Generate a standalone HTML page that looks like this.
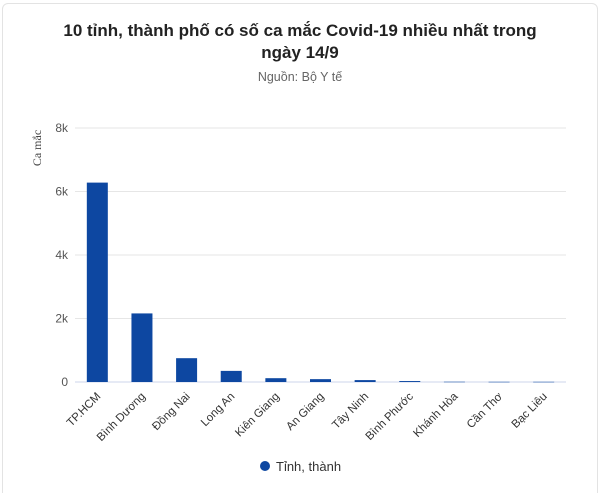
<!DOCTYPE html>
<html><head><meta charset="utf-8">
<style>
body{margin:0;background:#fff;font-family:"Liberation Sans","DejaVu Sans",sans-serif;}
#wrap{position:relative;width:600px;height:493px;overflow:hidden;}
#frame{position:absolute;left:2px;top:3px;width:594px;height:500px;border:1px solid #e3e3e3;border-radius:6px;}
</style></head><body>
<div id="wrap">
<div id="frame"></div>
<svg id="chart" width="600" height="493" style="position:absolute;left:0;top:0">
<text x="300" y="36" text-anchor="middle" font-size="17" font-weight="bold" fill="#222">10 tỉnh, thành phố có số ca mắc Covid-19 nhiều nhất trong</text>
<text x="300" y="58" text-anchor="middle" font-size="17" font-weight="bold" fill="#222">ngày 14/9</text>
<text x="300" y="81" text-anchor="middle" font-size="12.5" fill="#666">Nguồn: Bộ Y tế</text>
<text transform="translate(41,148) rotate(-90)" text-anchor="middle" font-size="12" fill="#444" font-family="Liberation Serif, serif">Ca mắc</text>
<g id="grid"></g><g id="bars"></g><g id="xlabels"></g>
<circle cx="265" cy="466" r="5" fill="#0d47a1"/>
<text x="276" y="471" font-size="13" fill="#333">Tỉnh, thành</text>
</svg>
</div>
<script>
const categories=["TP.HCM","Bình Dương","Đồng Nai","Long An","Kiên Giang","An Giang","Tây Ninh","Bình Phước","Khánh Hòa","Cần Thơ","Bạc Liêu"];
const values=[6280,2160,750,350,120,90,60,30,8,6,6];
const yTicks=[0,2000,4000,6000,8000];
const yTickLabels=["0","2k","4k","6k","8k"];
const NS="http://www.w3.org/2000/svg";
const x0=75,x1=566,yTop=128,yBase=382,yMax=8000;
const band=(x1-x0)/categories.length;
function yScale(v){return yBase-(v/yMax)*(yBase-yTop);}
function xCenter(i){return x0+band*(i+0.5);}
function mk(tag,attrs,parent){const e=document.createElementNS(NS,tag);for(const k in attrs)e.setAttribute(k,attrs[k]);parent.appendChild(e);return e;}
const grid=document.getElementById('grid'),bars=document.getElementById('bars'),xl=document.getElementById('xlabels');
yTicks.forEach((t,i)=>{
  const y=yScale(t);
  const l=mk('line',{x1:x0,x2:x1,y1:y,y2:y,stroke:i==0?'#ccd6eb':'#e6e6e6','stroke-width':1},grid);
  
  
  const tx=mk('text',{x:68,y:y+4,'text-anchor':'end','font-size':12,fill:'#555'},grid);
  tx.textContent=yTickLabels[i];
  
  
});
values.forEach((v,i)=>{
  const cx=xCenter(i),w=21,y=yScale(v);
  const r=mk('rect',{x:cx-w/2,y:y,width:w,height:Math.max(yBase-y,0.5),fill:'#0d47a1'},bars);
  
  
  const t=mk('text',{'text-anchor':'end','font-size':11.5,fill:'#333',transform:`translate(${cx+4},${yBase+15}) rotate(-45)`},xl);
  t.textContent=categories[i];
  
  
});
</script>
</body></html>
